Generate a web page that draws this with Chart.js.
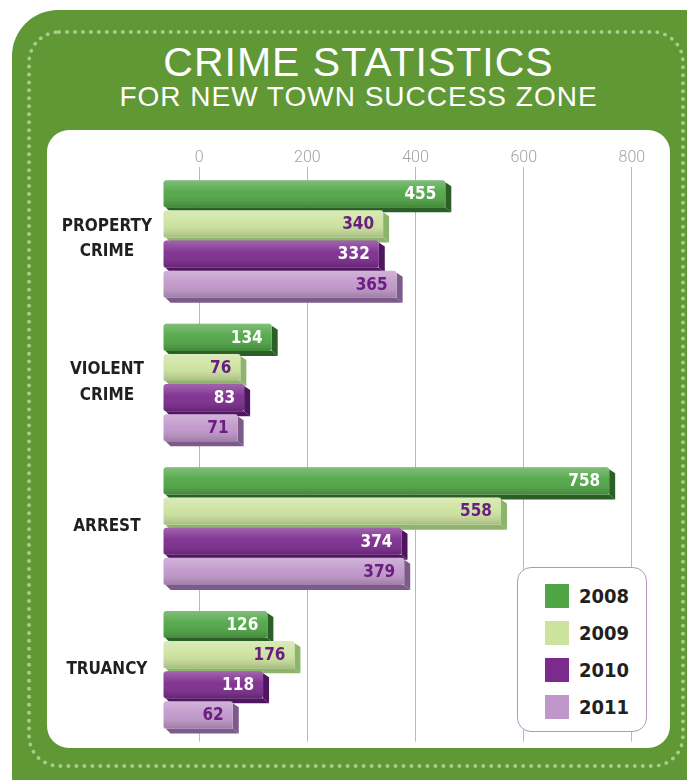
<!DOCTYPE html>
<html>
<head>
<meta charset="utf-8">
<script src="https://cdn.jsdelivr.net/npm/chart.js@4.4.0/dist/chart.umd.min.js"></script>
<style>
  html, body { margin: 0; padding: 0; background: #fff; }
  body { width: 687px; height: 780px; position: relative; overflow: hidden; font-family: 'Liberation Sans', Arial, sans-serif; }
  #bg { position: absolute; left: 12px; top: 10px; width: 720px; height: 820px; background: #5f9834; border-radius: 46px; }
  #dots { position: absolute; left: 27px; top: 30px; width: 650px; height: 730px; border: 4px dotted #a9cb8c; border-radius: 32px; }
  #title { position: absolute; left: 47px; top: 42px; width: 623px; text-align: center; color: #fff; }
  #title .t1 { font-size: 41px; line-height: 40px; letter-spacing: 1px; }
  #title .t2 { font-size: 28px; line-height: 30px; letter-spacing: 1px; }
  #panel { position: absolute; left: 47px; top: 130px; width: 623px; height: 618px; background: #fff; border-radius: 22px; }
  #wrap { position: absolute; left: 0; top: 0; width: 623px; height: 640px; }
  #legend { position: absolute; left: 470px; top: 437px; width: 128px; height: 163px; border: 1.5px solid #b394c5; border-radius: 14px; background: #fff; }
  .item { position: absolute; left: 27px; height: 25px; display: flex; align-items: center; }
  .sw { width: 24px; height: 24px; margin-right: 10px; }
  .lt { font-family: 'Liberation Sans Narrow', 'DejaVu Sans Condensed', Roboto, sans-serif; font-weight: bold; font-size: 20px; color: #231f20; }
</style>
</head>
<body>
<div id="bg"></div>
<div id="dots"></div>
<div id="title">
  <div class="t1">CRIME STATISTICS</div>
  <div class="t2">FOR NEW TOWN SUCCESS ZONE</div>
</div>
<div id="panel">
  <div id="wrap"><canvas id="chart"></canvas></div>
  <div id="legend"></div>
</div>
<script>
// categories and yearly values
const categories = [['PROPERTY', 'CRIME'], ['VIOLENT', 'CRIME'], 'ARREST', 'TRUANCY'];
const years = ['2008', '2009', '2010', '2011'];
const values2008 = [455, 134, 758, 126];
const values2009 = [340, 76, 558, 176];
const values2010 = [332, 83, 374, 118];
const values2011 = [365, 71, 379, 62];
const tickValues = [0, 200, 400, 600, 800];

const colors = ['#4fa545', '#cce39e', '#7c2a8e', '#c097ca'];
const sideColors = ['#2a5f26', '#8cb56a', '#4d165e', '#7c5a89'];
const labelColors = ['#ffffff', '#6a1f80', '#ffffff', '#6a1f80'];
const barStart = -66;

const allValues = [values2008, values2009, values2010, values2011];

const depthPlugin = {
    id: 'depth',
    beforeDatasetsDraw(chart) {
        const ctx = chart.ctx;
        chart.data.datasets.forEach((ds, i) => {
            chart.getDatasetMeta(i).data.forEach(bar => {
                const top = bar.y - bar.height / 2;
                ctx.save();
                ctx.fillStyle = sideColors[i];
                ctx.beginPath();
                ctx.moveTo(bar.base + 2, top + bar.height);
                ctx.lineTo(bar.x, top + bar.height);
                ctx.lineTo(bar.x + 6, top + bar.height + 5);
                ctx.lineTo(bar.base + 7, top + bar.height + 5);
                ctx.closePath();
                ctx.fill();
                ctx.beginPath();
                ctx.moveTo(bar.x, top + 2);
                ctx.lineTo(bar.x + 6, top + 6);
                ctx.lineTo(bar.x + 6, top + bar.height + 5);
                ctx.lineTo(bar.x, top + bar.height);
                ctx.closePath();
                ctx.fill();
                ctx.restore();
            });
        });
    },
    afterDatasetsDraw(chart) {
        const ctx = chart.ctx;
        chart.data.datasets.forEach((ds, i) => {
            chart.getDatasetMeta(i).data.forEach((bar, j) => {
                const top = bar.y - bar.height / 2;
                const g = ctx.createLinearGradient(0, top, 0, top + bar.height);
                g.addColorStop(0, 'rgba(255,255,255,0.28)');
                g.addColorStop(0.45, 'rgba(255,255,255,0.05)');
                g.addColorStop(1, 'rgba(0,0,0,0.18)');
                ctx.save();
                ctx.fillStyle = g;
                ctx.fillRect(bar.base, top, bar.x - bar.base, bar.height);
                ctx.font = 'bold 17px "Liberation Sans Narrow", "DejaVu Sans Condensed", Roboto, sans-serif';
                ctx.fillStyle = labelColors[i];
                ctx.textAlign = 'right';
                ctx.textBaseline = 'middle';
                ctx.fillText(ds.data[j], bar.x - 9, bar.y + 1);
                ctx.restore();
            });
        });
    }
};

const chart = new Chart(document.getElementById('chart'), {
    type: 'bar',
    data: {
        labels: categories,
        datasets: years.map((y, i) => ({
            label: y,
            data: allValues[i],
            backgroundColor: colors[i],
            base: barStart,
            borderRadius: 3,
            borderSkipped: false,
            categoryPercentage: 0.84,
            barPercentage: 0.9
        }))
    },
    options: {
        indexAxis: 'y',
        responsive: true,
        maintainAspectRatio: false,
        animation: false,
        layout: { autoPadding: false, padding: { top: 18, right: 10, bottom: 11, left: 0 } },
        plugins: { legend: { display: false }, tooltip: { enabled: false } },
        scales: {
            x: {
                position: 'top',
                min: -67,
                max: 852,
                afterBuildTicks(scale) { scale.ticks = tickValues.map(v => ({ value: v })); },
                grid: { color: '#b8b8b8', lineWidth: 1, drawTicks: false, tickLength: 0 },
                border: { display: false },
                ticks: { color: '#a3a3a3', padding: 0, font: { size: 16, family: 'Roboto, "Liberation Sans", sans-serif', weight: '300' } }
            },
            y: {
                grid: { display: false },
                border: { display: false },
                afterFit(scale) { scale.width = 116; },
                ticks: {
                    crossAlign: 'center',
                    color: '#231f20',
                    font: { size: 17, weight: 'bold', lineHeight: 1.5, family: '"Liberation Sans Narrow", "DejaVu Sans Condensed", Roboto, sans-serif' }
                }
            }
        }
    },
    plugins: [depthPlugin]
});

const legend = document.getElementById('legend');
chart.data.datasets.forEach((ds, i) => {
    const row = document.createElement('div');
    row.className = 'item';
    row.style.top = (15 + i * 37) + 'px';
    row.innerHTML = '<div class="sw" style="background:' + ds.backgroundColor + '"></div><span class="lt">' + ds.label + '</span>';
    legend.appendChild(row);
});
</script>
</body>
</html>
